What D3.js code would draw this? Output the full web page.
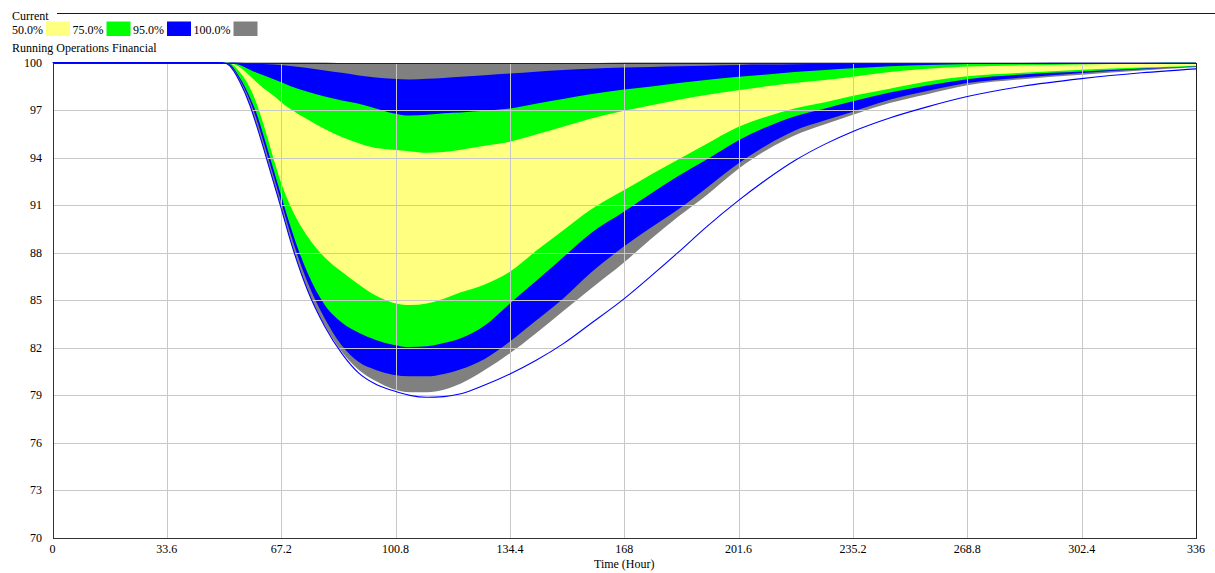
<!DOCTYPE html>
<html><head><meta charset="utf-8">
<script src="https://cdn.jsdelivr.net/npm/d3@7"></script>
<style>
body{margin:0;background:#fff;}
svg{display:block;}
text{font-family:"Liberation Serif","Times New Roman",serif;font-size:12px;fill:#000;}
</style>
</head><body>
<svg id="chart" width="1215" height="573"></svg>
<script>
// ---- data ----
const hours    = [0,50,52,55,58,60,62,65,67.2,70,75,80,85,90,95,100,105,110,115,120,127,134.4,142,150,158,168,176,184,192,201.6,210,218,227,235.2,246,257,268.8,285,302.4,320,336];
const current  = [100,100,99.8,98.8,97.3,96.0,94.6,92.4,90.8,88.7,85.6,83.35,81.65,80.4,79.7,79.3,79.0,78.88,78.92,79.1,79.65,80.35,81.2,82.25,83.5,85.1,86.55,88.05,89.6,91.3,92.65,93.8,94.85,95.65,96.5,97.2,97.85,98.5,98.98,99.35,99.6];
const grayLo   = [100,100,99.8,98.8,97.3,96.0,94.6,92.4,90.8,88.7,85.6,83.4,81.75,80.6,79.9,79.4,79.2,79.2,79.35,79.75,80.6,81.65,82.9,84.3,85.7,87.4,88.9,90.3,91.6,93.3,94.5,95.4,96.1,96.7,97.44,98.0,98.56,98.95,99.23,99.5,99.7];
const blueLo   = [100,100,99.85,98.95,97.6,96.4,95.0,92.8,91.2,89.15,86.1,83.85,82.15,81.1,80.6,80.3,80.2,80.2,80.35,80.65,81.3,82.4,83.7,85.1,86.7,88.4,89.6,90.75,92.05,93.64,94.8,95.7,96.35,96.9,97.65,98.2,98.7,99.05,99.34,99.58,99.75];
const greenLo  = [100,100,99.9,99.05,97.8,96.75,95.4,93.2,91.6,89.6,86.7,84.7,83.6,82.95,82.5,82.2,82.05,82.1,82.3,82.6,83.4,84.8,86.2,87.7,89.2,90.6,91.75,92.85,93.85,95.1,95.95,96.6,97.1,97.55,98.1,98.55,98.95,99.25,99.44,99.62,99.77];
const yellowLo = [100,100,99.95,99.4,98.4,97.4,96.1,93.9,92.4,90.9,89.0,87.7,86.8,86.0,85.3,84.85,84.7,84.8,85.1,85.5,86.0,86.8,88.1,89.4,90.7,91.95,92.95,93.9,94.85,95.95,96.6,97.1,97.5,97.9,98.35,98.8,99.13,99.35,99.55,99.68,99.8];
const yellowHi = [100,100,99.97,99.7,99.15,98.75,98.38,97.9,97.5,97.05,96.4,95.8,95.3,94.9,94.6,94.5,94.4,94.3,94.35,94.5,94.75,95.0,95.45,95.95,96.45,96.95,97.3,97.65,97.95,98.25,98.5,98.7,98.9,99.1,99.4,99.6,99.74,99.82,99.88,99.92,99.95];
const greenHi  = [100,100,99.99,99.85,99.55,99.35,99.2,98.95,98.75,98.5,98.15,97.85,97.6,97.4,97.1,96.8,96.65,96.7,96.8,96.85,96.95,97.1,97.4,97.7,98.0,98.3,98.48,98.7,98.9,99.1,99.25,99.4,99.52,99.63,99.76,99.84,99.9,99.93,99.95,99.97,99.98];
const blueHi   = [100,100,100,99.98,99.95,99.93,99.91,99.88,99.84,99.78,99.65,99.5,99.35,99.18,99.05,98.97,98.93,98.97,99.03,99.1,99.2,99.3,99.42,99.52,99.6,99.68,99.72,99.76,99.8,99.85,99.87,99.89,99.9,99.92,99.94,99.95,99.96,99.97,99.98,99.99,100];
const grayHi   = [100,100,100,100,100,100,100,100,100,100,100,100,99.95,99.93,99.93,99.93,99.93,99.93,99.93,99.93,99.93,99.93,99.93,99.93,99.95,100,100,100,100,100,100,100,100,100,100,100,100,100,100,100,100];

const xTickValues  = [0,33.6,67.2,100.8,134.4,168,201.6,235.2,268.8,302.4,336];
const yTickValues  = [70,73,76,79,82,85,88,91,94,97,100];
const legendLabels = ["50.0%","75.0%","95.0%","100.0%"];
const legendColors = ["#ffff80","#00ff00","#0000ff","#808080"];
const seriesTitle  = "Current";
const chartTitle   = "Running Operations Financial";
const xTitle       = "Time (Hour)";

// ---- layout ----
const svg = d3.select("#chart");
const L = 52.5, R = 1196, T = 62.5, B = 538;
const x = d3.scaleLinear().domain([0,336]).range([L,R]);
const y = d3.scaleLinear().domain([70,100]).range([B,T]);

const pts = hours.map((h,i)=>i);
const bands = [
  {lo:grayLo,  hi:grayHi,  color:legendColors[3]},
  {lo:blueLo,  hi:blueHi,  color:legendColors[2]},
  {lo:greenLo, hi:greenHi, color:legendColors[1]},
  {lo:yellowLo,hi:yellowHi,color:legendColors[0]}
];
const curve = d3.curveMonotoneX;
bands.forEach(b=>{
  const area = d3.area().curve(curve)
    .x(i=>x(hours[i])).y0(i=>y(b.lo[i])).y1(i=>y(b.hi[i]));
  svg.append("path").attr("d",area(pts)).attr("fill",b.color).attr("stroke","none");
});

// grid
const g = svg.append("g").attr("shape-rendering","crispEdges");
g.selectAll("line.v").data(xTickValues.slice(1,-1)).join("line")
  .attr("x1",d=>Math.round(x(d))+0.5).attr("x2",d=>Math.round(x(d))+0.5)
  .attr("y1",T).attr("y2",B).attr("stroke","#c8c8c8").attr("stroke-width",1);
g.selectAll("line.h").data(yTickValues.slice(1,-1)).join("line")
  .attr("y1",d=>Math.round(y(d))+0.5).attr("y2",d=>Math.round(y(d))+0.5)
  .attr("x1",L).attr("x2",R).attr("stroke","#c8c8c8").attr("stroke-width",1);

// frame
g.append("rect").attr("x",Math.round(L)+0.5).attr("y",Math.round(T)+0.5)
  .attr("width",Math.round(R)-Math.round(L)).attr("height",Math.round(B)-Math.round(T))
  .attr("fill","none").attr("stroke","#222").attr("stroke-width",1);
g.append("line").attr("x1",Math.round(L)+0.5).attr("x2",Math.round(L)+0.5).attr("y1",T).attr("y2",B+1)
  .attr("stroke","#333").attr("stroke-width",1.5);
g.append("line").attr("x1",L).attr("x2",R).attr("y1",Math.round(B)+0.5).attr("y2",Math.round(B)+0.5)
  .attr("stroke","#333").attr("stroke-width",1.5);

// current line
const line = d3.line().curve(curve).x(i=>x(hours[i])).y(i=>y(current[i]));
svg.append("path").attr("d",line(pts)).attr("fill","none").attr("stroke","#0000ff").attr("stroke-width",1.1);

// axes labels
svg.append("g").selectAll("text").data(yTickValues).join("text")
  .attr("x",42).attr("y",d=>y(d)+4).attr("text-anchor","end").text(d=>String(d));
svg.append("g").selectAll("text").data(xTickValues).join("text")
  .attr("x",d=>x(d)).attr("y",552.5).attr("text-anchor","middle").text(d=>String(d));
svg.append("text").attr("x",(L+R)/2).attr("y",568).attr("text-anchor","middle").text(xTitle);

// legend
svg.append("text").attr("x",12).attr("y",19.5).text(seriesTitle);
svg.append("line").attr("x1",57).attr("x2",1215).attr("y1",13.5).attr("y2",13.5)
  .attr("stroke","#0000dd").attr("stroke-width",1.2);
let lx = 12;
legendLabels.forEach((lab,i)=>{
  const t = svg.append("text").attr("x",lx).attr("y",33.5).text(lab);
  const w = t.node().getComputedTextLength();
  const rx = lx + w + 3;
  svg.append("rect").attr("x",rx).attr("y",21.5).attr("width",24).attr("height",14.5).attr("fill",legendColors[i]);
  lx = rx + 24 + 2.5;
});
svg.append("text").attr("x",12).attr("y",51.5).text(chartTitle);
</script>
</body></html>
